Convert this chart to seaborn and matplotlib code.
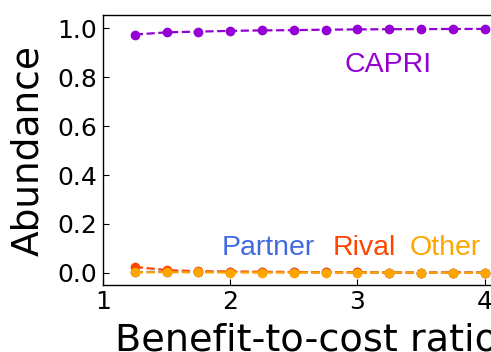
import numpy as np
import pandas as pd
import matplotlib
matplotlib.use("Agg")
import matplotlib.pyplot as plt
import seaborn as sns

# benefit-to-cost ratios
ratios = [1.25, 1.5, 1.75, 2.0, 2.25, 2.5, 2.75, 3.0, 3.25, 3.5, 3.75, 4.0]

# abundances
capri = [0.975, 0.984, 0.987, 0.990, 0.992, 0.993, 0.995, 0.996, 0.997, 0.997, 0.998, 0.998]
partner = [0.003, 0.004, 0.004, 0.004, 0.003, 0.003, 0.002, 0.002, 0.001, 0.001, 0.001, 0.001]
rival = [0.024, 0.011, 0.006, 0.005, 0.004, 0.003, 0.002, 0.002, 0.001, 0.001, 0.001, 0.001]
other = [0.002, 0.002, 0.002, 0.001, 0.001, 0.001, 0.001, 0.001, 0.001, 0.001, 0.000, 0.000]

series = [("Partner", partner, "royalblue"),
          ("Rival", rival, "orangered"),
          ("Other", other, "orange"),
          ("CAPRI", capri, "darkviolet")]

sns.set_style("ticks")
plt.rcParams['font.family'] = ['DejaVu Sans']
plt.rcParams['text.color'] = 'black'
plt.rcParams['axes.labelcolor'] = 'black'
plt.rcParams['xtick.color'] = 'black'
plt.rcParams['ytick.color'] = 'black'
plt.rcParams['axes.edgecolor'] = 'black'

fig = plt.figure(figsize=(4.91, 3.52), dpi=100)
# axes run past the right edge, as in the cropped original
ax = fig.add_axes([103 / 491, 67 / 352, 407 / 491, 270 / 352])

for name, vals, col in series:
    df = pd.DataFrame({"ratio": ratios, "abundance": vals})
    sns.lineplot(data=df, x="ratio", y="abundance", ax=ax, color=col,
                 marker="o", markersize=7, markeredgewidth=0,
                 linestyle="--", linewidth=1.6)

ax.set_xlim(1.0, 4.2)
ax.set_ylim(-0.05, 1.055)
ax.set_xticks([1, 2, 3, 4])
ax.set_yticks([0.0, 0.2, 0.4, 0.6, 0.8, 1.0])
ax.tick_params(labelsize=18, width=0.8, length=4, direction="in")
ax.tick_params(axis="x", pad=3.5)
ax.tick_params(axis="y", pad=4)
for s in ax.spines.values():
    s.set_linewidth(1.0)
ax.set_xlabel("Benefit-to-cost ratio", fontsize=27.5, labelpad=6)
ax.set_ylabel("Abundance", fontsize=27, labelpad=8)

lab_font = ['Liberation Sans', 'DejaVu Sans']
ax.text(2.90, 0.82, "CAPRI", color="darkviolet", fontsize=20.5, family=lab_font)
ax.text(1.935, 0.074, "Partner", color="royalblue", fontsize=20.5, family=lab_font)
ax.text(2.807, 0.074, "Rival", color="orangered", fontsize=20.5, family=lab_font)
ax.text(3.41, 0.074, "Other", color="orange", fontsize=20.5, family=lab_font)

fig.savefig("out.png", dpi=100)
